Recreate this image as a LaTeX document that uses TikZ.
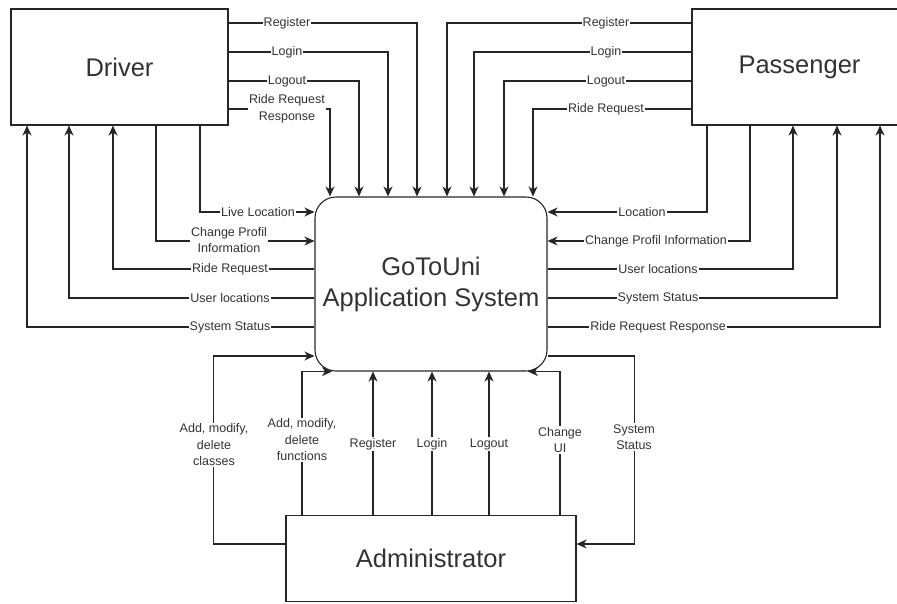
\documentclass[tikz,border=0pt]{standalone}
\usepackage{fontspec}
\setmainfont{Liberation Sans}
\usetikzlibrary{arrows.meta, positioning}

\tikzset{
  entity/.style={draw=black!85, line width=1.1pt, rectangle, text=black!80,
    font=\fontsize{25.5}{31}\selectfont},
  process/.style={draw=black!85, line width=1.1pt, rectangle, rounded corners=21pt,
    minimum width=232, minimum height=174, align=center, text=black!80,
    font=\fontsize{25.5}{31}\selectfont},
  flow/.style={draw=black!85, line width=1.1pt,
    -{Stealth[length=10pt, width=9pt, inset=3pt]}},
  wire/.style={draw=black!85, line width=1.1pt},
  lbl/.style={fill=white, inner sep=1pt, align=center, text=black!80,
    font=\fontsize{12.5}{16.5}\selectfont},
}

\begin{document}
\begin{tikzpicture}[x=1pt, y=-1pt]
  \clip (0,0) rectangle (897,603);

  % Entities and system
  \node[entity, minimum width=217, minimum height=116] (driver) at (119.5,67) {Driver};
  \node[entity, minimum width=215, minimum height=116] (passenger) at (799.5,67) {Passenger};
  \node[process] (sys) at (431,284) {GoToUni\\Application System};
  \node[entity, minimum width=290, minimum height=86] (admin) at (431,558.5) {Administrator};

  % Driver -> system (top)
  \foreach \y/\x/\name/\txt in {23/417/dreg/Register, 52/388/dlogin/Login,
      81/359/dlogout/Logout, 109/330/dresp/{Ride Request\\Response}} {
    \draw[flow] (driver.east |- 0,\y) -| (\x,0 |- sys.north);
    \node[lbl] (\name) at (287,\y) {\txt};
  }

  % Passenger -> system (top)
  \foreach \y/\x/\name/\txt in {23/447/preg/Register, 52/474/plogin/Login,
      81/504/plogout/Logout, 109/533/preq/Ride Request} {
    \draw[flow] (passenger.west |- 0,\y) -| (\x,0 |- sys.north);
    \node[lbl] (\name) at (606,\y) {\txt};
  }

  % Driver <-> system (left)
  \draw[flow] (200,0 |- driver.south) |- (sys.west |- 0,212);
  \node[lbl] (dlive) at (258,212) {Live Location};
  \draw[flow] (156,0 |- driver.south) |- (sys.west |- 0,241);
  \node[lbl] (dprof) at (229,240) {Change Profil\\Information};
  \foreach \y/\x/\name/\txt in {269/113/dride/Ride Request,
      298/69/duser/User locations, 327/27/dstat/System Status} {
    \draw[flow] (sys.west |- 0,\y) -| (\x,0 |- driver.south);
    \node[lbl] (\name) at (230,\y) {\txt};
  }

  % Passenger <-> system (right)
  \draw[flow] (707,0 |- passenger.south) |- (sys.east |- 0,212);
  \node[lbl] (ploc) at (642,212) {Location};
  \draw[flow] (750,0 |- passenger.south) |- (sys.east |- 0,241);
  \node[lbl] (pprof) at (656,241) {Change Profil Information};
  \foreach \y/\x/\name/\txt in {269/793/puser/User locations,
      298/837/pstat/System Status, 327/880/presp/Ride Request Response} {
    \draw[flow] (sys.east |- 0,\y) -| (\x,0 |- passenger.south);
    \node[lbl] (\name) at (658,\y) {\txt};
  }

  % Administrator <-> system (bottom)
  \draw[flow] (admin.west |- 0,544) -- ++(-72,0) |- (sys.west |- 0,356);
  \node[lbl] (aclass) at (214,445) {Add, modify,\\delete\\classes};
  \draw[flow] (302,0 |- admin.north) |- (332,0 |- sys.south);
  \node[lbl] (afunc) at (302,440) {Add, modify,\\delete\\functions};
  \foreach \x/\name/\txt in {373/areg/Register, 432/alogin/Login, 489/alogout/Logout} {
    \draw[flow] (\x,0 |- admin.north) -- (\x,0 |- sys.south);
    \node[lbl] (\name) at (\x,444) {\txt};
  }
  \draw[flow] (560,0 |- admin.north) |- (528,0 |- sys.south);
  \node[lbl] (aui) at (560,440) {Change\\UI};
  \draw[flow] (sys.east |- 0,356) -- ++(87,0) |- (admin.east |- 0,544);
  \node[lbl] (astat) at (634,437) {System\\Status};
\end{tikzpicture}
\end{document}
